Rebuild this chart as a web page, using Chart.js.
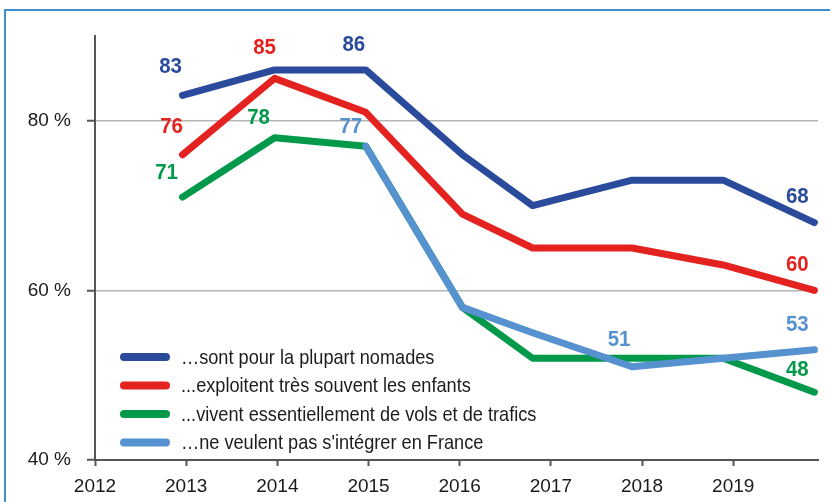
<!DOCTYPE html>
<html>
<head>
<meta charset="utf-8">
<script src="https://cdn.jsdelivr.net/npm/chart.js@4"></script>
<style>
  html, body { margin: 0; padding: 0; background: #fff; }
  #wrap { position: relative; width: 830px; height: 502px; }
  #frame { position: absolute; left: 4px; top: 9px; right: -10px; bottom: -10px;
           border-left: 2px solid #3f8ed3; border-top: 2px solid #3f8ed3; pointer-events: none; }
  canvas { position: absolute; left: 0; top: 0; }
</style>
</head>
<body>
<div id="wrap">
  <canvas id="c" width="830" height="502"></canvas>
  <div id="frame"></div>
</div>
<script>
// ---- data ----
const surveyDates = [2012.96, 2013.97, 2014.97, 2016.03, 2016.8, 2017.89, 2018.89, 2019.89];
const nomades     = [83, 86, 86, 76, 70, 73, 73, 68];
const enfants     = [76, 85, 81, 69, 65, 65, 63, 60];
const vols        = [71, 78, 77, 58, 52, 52, 52, 48];
const integrer    = [null, null, 77, 58, 55, 51, 52, 53];
const seriesNames = [
  "\u2026sont pour la plupart nomades",
  "...exploitent tr\u00e8s souvent les enfants",
  "...vivent essentiellement de vols et de trafics",
  "\u2026ne veulent pas s'int\u00e9grer en France"
];
const yTickValues = [40, 60, 80];
const xTickYears  = [2012, 2013, 2014, 2015, 2016, 2017, 2018, 2019];

const colors = ["#2a4a9b", "#e4221f", "#03994a", "#5592cf"];

function toPoints(vals) {
  const out = [];
  vals.forEach((v, i) => { if (v !== null) out.push({ x: surveyDates[i], y: v }); });
  return out;
}

// value labels: dataset index, point index (in surveyDates), offset
const valueLabels = [
  { ds: 0, i: 0, dx: -12, dy: -29 }, { ds: 0, i: 2, dx: -12, dy: -26 }, { ds: 0, i: 7, dx: -17, dy: -27 },
  { ds: 1, i: 0, dx: -11, dy: -29 }, { ds: 1, i: 1, dx: -10, dy: -31 }, { ds: 1, i: 7, dx: -17, dy: -26 },
  { ds: 2, i: 0, dx: -16, dy: -25 }, { ds: 2, i: 1, dx: -16, dy: -21 }, { ds: 2, i: 7, dx: -17, dy: -23 },
  { ds: 3, i: 2, dx: -15, dy: -20 }, { ds: 3, i: 5, dx: -13, dy: -28 }, { ds: 3, i: 7, dx: -17, dy: -26 }
];
const seriesValues = [nomades, enfants, vols, integrer];

const labelPlugin = {
  id: 'valueLabels',
  afterDatasetsDraw(chart) {
    const ctx = chart.ctx;
    const xs = chart.scales.x, ys = chart.scales.y;
    const sx = 0.93;
    valueLabels.forEach(l => {
      const v = seriesValues[l.ds][l.i];
      const px = xs.getPixelForValue(surveyDates[l.i]);
      const py = ys.getPixelForValue(v);
      ctx.save();
      ctx.font = 'bold 22px "Liberation Sans", Arial, sans-serif';
      ctx.textAlign = 'center';
      ctx.textBaseline = 'middle';
      ctx.fillStyle = colors[l.ds];
      ctx.translate(px + l.dx, py + l.dy + 1);
      ctx.scale(sx, 1);
      ctx.fillText(String(v), 0, 0);
      ctx.restore();
    });
  }
};

const legendPlugin = {
  id: 'innerLegend',
  afterDraw(chart) {
    const ctx = chart.ctx;
    const rows = [357, 385.5, 414, 442.5];
    seriesNames.forEach((name, k) => {
      ctx.save();
      ctx.strokeStyle = colors[k];
      ctx.lineWidth = 8;
      ctx.lineCap = 'round';
      ctx.beginPath();
      ctx.moveTo(124, rows[k]);
      ctx.lineTo(166, rows[k]);
      ctx.stroke();
      ctx.fillStyle = '#1c1c1c';
      ctx.font = '21px "Liberation Sans", Arial, sans-serif';
      ctx.textAlign = 'left';
      ctx.textBaseline = 'middle';
      ctx.translate(181, rows[k] + 1);
      ctx.scale(0.865, 1);
      ctx.fillText(name, 0, 0);
      ctx.restore();
    });
  }
};

const mk = (k, vals, order) => ({
  label: seriesNames[k],
  data: toPoints(vals),
  borderColor: colors[k],
  backgroundColor: colors[k],
  borderWidth: 7,
  pointRadius: 0,
  borderJoinStyle: 'round',
  borderCapStyle: 'round',
  tension: 0,
  clip: 12,
  order: order
});

new Chart(document.getElementById('c'), {
  type: 'line',
  data: {
    datasets: [
      mk(0, nomades, 2),
      mk(1, enfants, 3),
      mk(2, vols, 4),
      mk(3, integrer, 1)
    ]
  },
  options: {
    responsive: false,
    animation: false,
    layout: { padding: { top: 36, right: 12, left: 0, bottom: 0 } },
    plugins: { legend: { display: false }, tooltip: { enabled: false } },
    scales: {
      x: {
        type: 'linear',
        min: 2012,
        max: 2019.93,
        afterBuildTicks: s => { s.ticks = xTickYears.map(v => ({ value: v })); },
        afterFit: s => { s.height = 42; },
        grid: { drawOnChartArea: false, drawTicks: true, tickLength: 6, tickColor: '#555', tickWidth: 2 },
        border: { color: '#555', width: 2 },
        ticks: {
          font: { family: '"Liberation Sans", Arial, sans-serif', size: 19 },
          color: '#1a1a1a',
          padding: 9,
          maxRotation: 0,
          autoSkip: false,
          callback: v => String(v)
        }
      },
      y: {
        min: 40,
        max: 90,
        afterBuildTicks: s => { s.ticks = yTickValues.map(v => ({ value: v })); },
        afterFit: s => { s.width = 95; },
        grid: {
          color: c => (c.tick && c.tick.value === 40) ? 'rgba(0,0,0,0)' : '#b5b5b5',
          lineWidth: 1.5,
          tickColor: '#555',
          tickLength: 8,
          tickWidth: 2
        },
        border: { color: '#555', width: 2 },
        ticks: {
          font: { family: '"Liberation Sans", Arial, sans-serif', size: 19 },
          color: '#1a1a1a',
          padding: 16,
          callback: v => v + ' %'
        }
      }
    }
  },
  plugins: [labelPlugin, legendPlugin]
});
</script>
</body>
</html>
